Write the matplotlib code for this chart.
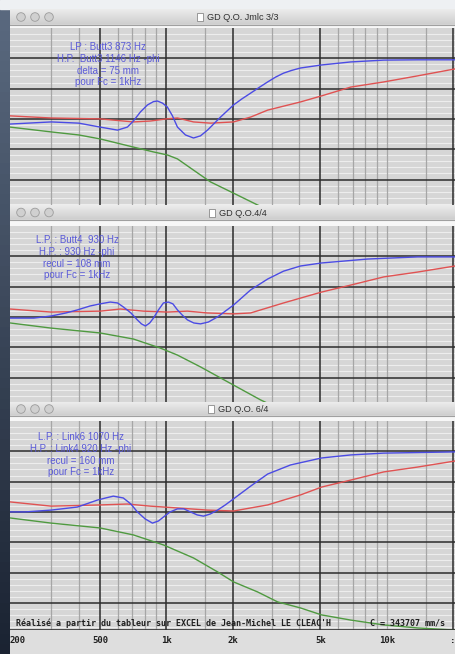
import numpy as np
import matplotlib.pyplot as plt
from matplotlib.patches import Circle, Rectangle
from matplotlib.colors import LinearSegmentedColormap

W, H = 455, 654

# frequency axis (Hz)
f_lo, f_hi = 195, 20400
major_f = [500, 1000, 2000, 5000, 20000]
minor_f = [300, 400, 600, 700, 800, 900, 1500, 3000, 4000,
           6000, 7000, 8000, 9000, 10000, 15000]
tick_f = [200, 500, 1000, 2000, 5000, 10000, 20000]
tick_lab = ['200', '500', '1k', '2k', '5k', '10k', ':']

# window 1 : GD Q.O. Jmlc 3/3
w1_blue_f = [195, 300, 400, 500, 600, 665, 708, 762, 820, 873, 910, 960, 1010,
             1065, 1122, 1220, 1327, 1427, 1536, 1760, 2016, 2200, 2410, 2650,
             2880, 3130, 3400, 3700, 4060, 5060, 6860, 9690, 13800, 20400]
w1_blue = [3.83, 3.90, 3.86, 3.73, 3.63, 3.73, 3.93, 4.23, 4.46, 4.57, 4.59, 4.52,
           4.39, 4.10, 3.73, 3.47, 3.37, 3.44, 3.63, 4.06, 4.46, 4.66, 4.85, 5.05,
           5.22, 5.38, 5.51, 5.60, 5.68, 5.78, 5.88, 5.94, 5.95, 5.95]
w1_red_f = [195, 300, 500, 708, 846, 1000, 1122, 1327, 1585, 2016, 2410, 2880,
            4060, 5060, 6860, 9690, 13800, 20400]
w1_red = [4.10, 4.03, 4.00, 3.90, 3.93, 4.00, 4.03, 3.90, 3.86, 3.90, 4.06, 4.29,
          4.56, 4.76, 5.05, 5.22, 5.42, 5.65]
w1_green_f = [195, 300, 400, 500, 708, 873, 1010, 1122, 1327, 1585, 2016, 2590,
              3400, 5060, 8200, 20400]
w1_green = [3.73, 3.57, 3.47, 3.34, 3.07, 2.91, 2.81, 2.68, 2.31, 1.92, 1.55, 1.16,
            0.80, 0.45, 0.20, 0.05]
w1_notes = ['LP : Butt3 873 Hz', 'H.P.  Butt3 1146 Hz -phi',
            'delta = 75 mm', 'pour Fc = 1kHz']

# window 2 : GD Q.O.4/4
w2_blue_f = [195, 250, 300, 350, 394, 450, 500, 556, 600, 637, 690, 738, 770,
             803, 840, 873, 920, 969, 1021, 1070, 1122, 1180, 1246, 1330, 1427,
             1550, 1706, 1850, 2016, 2410, 2880, 3400, 4060, 5060, 8200, 13800,
             20400]
w2_blue = [3.96, 3.96, 4.03, 4.13, 4.23, 4.36, 4.43, 4.49, 4.46, 4.33, 4.13, 3.90,
           3.77, 3.70, 3.80, 3.96, 4.23, 4.46, 4.49, 4.43, 4.23, 4.06, 3.90, 3.80,
           3.77, 3.83, 4.00, 4.19, 4.39, 4.89, 5.25, 5.51, 5.68, 5.78, 5.91, 5.98,
           5.98]
w2_red_f = [195, 300, 500, 618, 786, 1010, 1246, 1536, 2016, 2410, 3400, 5060,
            6860, 9690, 13800, 20400]
w2_red = [4.26, 4.16, 4.19, 4.26, 4.19, 4.16, 4.19, 4.13, 4.10, 4.13, 4.46, 4.82,
          5.05, 5.32, 5.48, 5.68]
w2_green_f = [195, 300, 500, 708, 939, 1122, 1427, 2016, 2675, 3400, 5060, 8200, 20400]
w2_green = [3.80, 3.63, 3.47, 3.27, 2.97, 2.74, 2.35, 1.75, 1.26, 0.90, 0.50, 0.25, 0.10]
w2_notes = ['L.P. : Butt4  930 Hz', 'H.P. : 930 Hz -phi',
            'recul = 108 mm', 'pour Fc = 1kHz']

# window 3 : GD Q.O. 6/4
w3_blue_f = [195, 229, 300, 394, 486, 530, 574, 637, 690, 738, 800, 864, 920,
             969, 1040, 1122, 1200, 1285, 1380, 1473, 1580, 1706, 1850, 2016,
             2410, 2880, 3660, 5060, 6860, 9690, 20400]
w3_blue = [4.00, 4.00, 4.06, 4.16, 4.39, 4.46, 4.52, 4.46, 4.26, 4.00, 3.77, 3.63,
           3.70, 3.83, 4.00, 4.10, 4.10, 4.00, 3.90, 3.86, 3.93, 4.06, 4.23, 4.43,
           4.85, 5.25, 5.55, 5.78, 5.88, 5.94, 5.98]
w3_red_f = [195, 300, 500, 665, 846, 1122, 1536, 2016, 2880, 4060, 5060, 6860,
            9690, 13800, 20400]
w3_red = [4.33, 4.19, 4.23, 4.26, 4.19, 4.13, 4.06, 4.03, 4.23, 4.56, 4.82, 5.05,
          5.32, 5.48, 5.68]
w3_green_f = [195, 300, 500, 708, 969, 1327, 1706, 2016, 2590, 3195, 4060, 5060,
              6860, 9690, 13800, 20400]
w3_green = [3.80, 3.63, 3.47, 3.24, 2.91, 2.48, 2.02, 1.69, 1.36, 1.03, 0.83, 0.60,
            0.43, 0.27, 0.17, 0.10]
w3_notes = ['L.P. : Link6 1070 Hz', 'H.P. : Link4 920 Hz -phi',
            'recul = 160 mm', 'pour Fc = 1kHz']

footer = "Réalisé a partir du tableur sur EXCEL de Jean-Michel LE CLEAC'H"
footer_c = 'C = 343707 mm/s'

BLUE, RED, GREEN = '#4b4be4', '#e05252', '#4f9a40'
NOTE = '#5a5ad8'
PX_DIV = 30.3  # pixels per major division


def rect(left, top, width, height):
    return [left / W, 1 - (top + height) / H, width / W, height / H]


def title_bar(top, bar_h, full_h, title, icon_x):
    ax = fig.add_axes(rect(10, top, 445, full_h))
    ax.set_xlim(0, 445)
    ax.set_ylim(full_h, 0)
    ax.axis('off')
    cm = LinearSegmentedColormap.from_list('bar', ['#ececec', '#cdcdcd'])
    ax.imshow(np.linspace(0, 1, 32).reshape(-1, 1), cmap=cm, aspect='auto',
              extent=(0, 445, bar_h, 0))
    ax.add_patch(Rectangle((0, bar_h), 445, full_h - bar_h, color='#f7f7f7'))
    ax.plot([0, 445], [bar_h, bar_h], color='#a0a0a0', lw=0.8)
    for cx in [11, 25, 39]:
        ax.add_patch(Circle((cx, bar_h / 2), 4.3, fc='#d0d0d0', ec='#9c9c9c', lw=0.6))
    ax.add_patch(Rectangle((icon_x, bar_h / 2 - 4), 6, 8, fc='white', ec='#8a8a8a', lw=0.6))
    ax.text(233, bar_h / 2 + 0.5, title, ha='center', va='center', fontsize=6.6,
            family='Liberation Sans', color='#303030')


def plot_window(top, height, curves, notes, note_x, note_y):
    ax = fig.add_axes(rect(10, top, 445, height))
    ax.set_facecolor('#d6d6d6')
    ax.set_xscale('log')
    ax.set_xlim(f_lo, f_hi)
    ybot = 7 - height / PX_DIV
    ax.set_ylim(ybot, 7)
    for y in np.arange(0.2, 7, 0.2):
        if abs(y - round(y)) > 0.01:
            ax.axhline(y, color='#ededed', lw=0.8, zorder=1)
    for f in minor_f:
        ax.axvline(f, color='#a6a6a6', lw=0.9, zorder=1)
    for y in range(1, 7):
        ax.axhline(y, color='#2c2c2c', lw=1.1, zorder=2)
    for f in major_f:
        ax.axvline(f, color='#2c2c2c', lw=1.1, zorder=2)
    for fx, vy, c in curves:
        ax.plot(fx, vy, color=c, lw=1.0, zorder=3)
    for i, s in enumerate(notes):
        ax.text((note_x - 10) / 445, 1 - (note_y + 11.8 * i - top) / height, s,
                transform=ax.transAxes, ha='center', va='center', fontsize=7,
                family='Liberation Sans', color=NOTE, zorder=4)
    ax.set_xticks([])
    ax.set_yticks([])
    ax.minorticks_off()
    for sp in ax.spines.values():
        sp.set_visible(False)
    return ax


fig = plt.figure(figsize=(W / 100, H / 100), dpi=100)

# desktop behind the windows
bg = fig.add_axes([0, 0, 1, 1])
bg.axis('off')
desk = LinearSegmentedColormap.from_list('desk', ['#5a6a80', '#1b2332'])
bg.imshow(np.linspace(0, 1, 64).reshape(-1, 1), cmap=desk, aspect='auto',
          extent=(0, W, H, 0))
bg.add_patch(Rectangle((0, 0), W, 9, color='#eef0f3'))
bg.set_xlim(0, W)
bg.set_ylim(H, 0)

# window 1
title_bar(9, 16, 19, 'GD Q.O. Jmlc 3/3', 187)
plot_window(28, 177, [(w1_green_f, w1_green, GREEN), (w1_red_f, w1_red, RED),
                      (w1_blue_f, w1_blue, BLUE)], w1_notes, 108, 47)

# window 2
title_bar(205, 15, 21, 'GD Q.O.4/4', 199)
plot_window(226, 176, [(w2_green_f, w2_green, GREEN), (w2_red_f, w2_red, RED),
                       (w2_blue_f, w2_blue, BLUE)], w2_notes, 77, 240)

# window 3
title_bar(402, 14, 19, 'GD Q.O. 6/4', 198)
ax3 = plot_window(421, 209, [(w3_green_f, w3_green, GREEN), (w3_red_f, w3_red, RED),
                             (w3_blue_f, w3_blue, BLUE)], w3_notes, 81, 437)
ax3.text(6 / 445, 1 - 202 / 209, footer, transform=ax3.transAxes, ha='left',
         va='center', fontsize=6, family='DejaVu Sans Mono', weight='bold',
         color='#202020', zorder=5)
ax3.text(360 / 445, 1 - 202 / 209, footer_c, transform=ax3.transAxes, ha='left',
         va='center', fontsize=6, family='DejaVu Sans Mono', weight='bold',
         color='#202020', zorder=5)
ax3.axhline(7 - 209 / PX_DIV, color='#303030', lw=1.2, zorder=5)

# frequency labels strip
lab = fig.add_axes(rect(10, 630, 445, 24))
lab.set_xscale('log')
lab.set_xlim(f_lo, f_hi)
lab.set_ylim(0, 1)
lab.axis('off')
lab.add_patch(Rectangle((0, 0), 1, 1, transform=lab.transAxes, color='#dedede', zorder=0))
for f, s in zip(tick_f, tick_lab):
    ha = 'left' if f == tick_f[0] else 'center'
    lab.text(f if f > 200 else f_lo, 0.55, s, ha=ha, va='center', fontsize=6.5,
             family='DejaVu Sans Mono', weight='bold', color='#202020')

fig.savefig('out.png', dpi=100)
